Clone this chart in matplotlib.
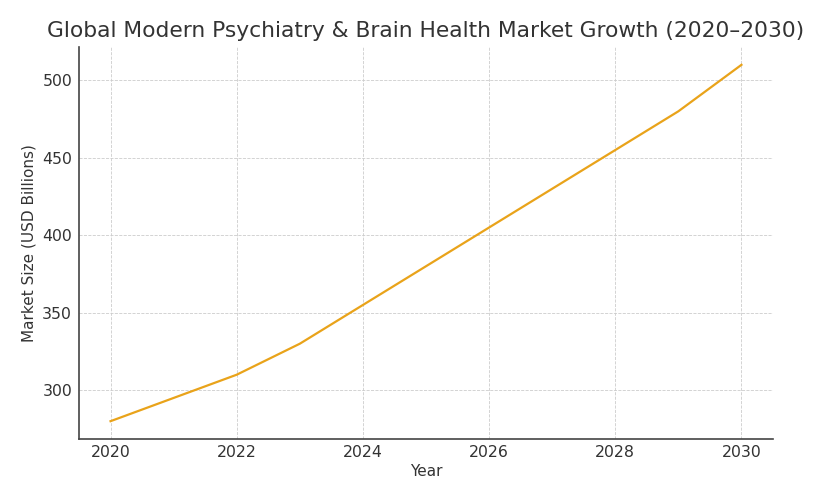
import matplotlib
matplotlib.use("Agg")
import matplotlib.pyplot as plt

years = [2020, 2021, 2022, 2023, 2024, 2025, 2026, 2027, 2028, 2029, 2030]
market_size = [280, 295, 310, 330, 355, 380, 405, 430, 455, 480, 510]
title = "Global Modern Psychiatry & Brain Health Market Growth (2020–2030)"

fig = plt.figure(figsize=(8.16, 4.93), dpi=100)
ax = fig.add_axes([79/816, 1-439/493, (773-79)/816, (439-47)/493])
ax.plot(years, market_size, color="#E9A31A", linewidth=1.6)
ax.set_title(title, fontsize=15.7, color="#333333", pad=7)
ax.set_xlabel("Year", fontsize=11, color="#333333", labelpad=3)
ax.set_ylabel("Market Size (USD Billions)", fontsize=11, color="#333333")
ax.set_xticks([2020, 2022, 2024, 2026, 2028, 2030])
ax.set_yticks([300, 350, 400, 450, 500])
ax.tick_params(length=0, labelsize=11.3, labelcolor="#333333", pad=4)
ax.tick_params(axis="y", pad=5)
ax.grid(True, linestyle="--", linewidth=0.6, color="#cccccc")
ax.set_axisbelow(True)
for s in ["top", "right"]:
    ax.spines[s].set_visible(False)
for s in ["left", "bottom"]:
    ax.spines[s].set_color("#444444")
    ax.spines[s].set_linewidth(1.2)
fig.savefig("out.png", dpi=100)
